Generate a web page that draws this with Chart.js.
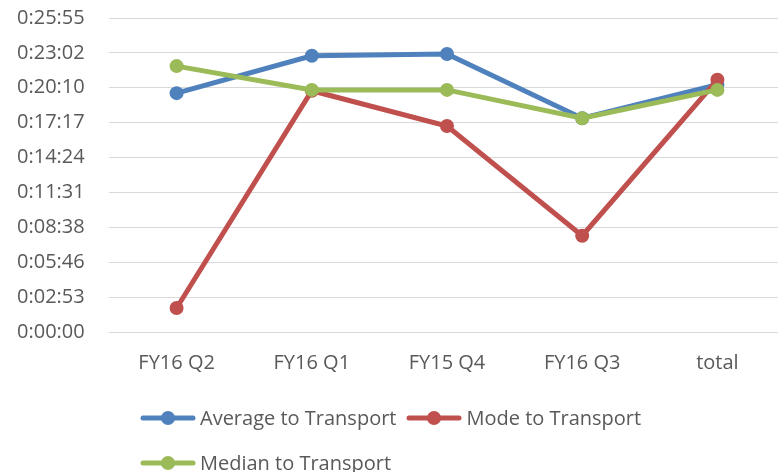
<!DOCTYPE html>
<html lang="en">
<head>
    <meta charset="UTF-8">
    <script src="https://cdn.jsdelivr.net/npm/chart.js"></script>
    <title>Time to Transport</title>
    <style>
        body { margin: 0; overflow: hidden; background: #fff; font-family: "Open Sans", sans-serif; }
        #wrap { position: relative; width: 778px; height: 472px; overflow: hidden; }
        #legend { position: absolute; left: 140px; top: 395px; color: #595959; font-size: 20px; }
        .row { display: flex; align-items: center; height: 45px; }
        .item { display: flex; align-items: center; margin-right: 10px; }
        .item svg { margin-right: 4px; }
    </style>
</head>
<body>
<div id="wrap">
    <canvas id="timeChart" width="792" height="472"></canvas>
    <div id="legend"></div>
</div>

<script>
    // data (seconds)
    const categories = ['FY16 Q2', 'FY16 Q1', 'FY15 Q4', 'FY16 Q3', 'total'];
    const averageSecs = [1183, 1368, 1377, 1059, 1225];
    const modeSecs = [119, 1195, 1020, 477, 1249];
    const medianSecs = [1317, 1199, 1199, 1059, 1199];
    const seriesNames = ['Average to Transport', 'Mode to Transport', 'Median to Transport'];
    const seriesColors = ['#4F81BD', '#C0504D', '#9BBB59'];
    const legendRows = [[0, 1], [2]];

    // excel-style axis: 0.002 day steps
    const stepSecs = 172.8;
    const maxSecs = 1555.2;

    function fmtTime(v) {
        let s = Math.round(v);
        let h = Math.floor(s / 3600);
        let m = Math.floor((s % 3600) / 60);
        let sec = s % 60;
        return h + ':' + String(m).padStart(2, '0') + ':' + String(sec).padStart(2, '0');
    }

    function makeSet(i, values) {
        return {
            label: seriesNames[i],
            data: values,
            borderColor: seriesColors[i],
            backgroundColor: seriesColors[i],
            borderWidth: 5,
            pointRadius: 7,
            pointBorderWidth: 0,
            pointBackgroundColor: seriesColors[i],
            order: 2 - i,
            tension: 0
        };
    }

    let ctx = document.getElementById('timeChart').getContext('2d');
    let chart = new Chart(ctx, {
        type: 'line',
        data: {
            labels: categories,
            datasets: [makeSet(0, averageSecs), makeSet(1, modeSecs), makeSet(2, medianSecs)]
        },
        options: {
            responsive: false,
            animation: false,
            layout: { padding: { left: 17, top: 0, right: 0, bottom: 90 } },
            plugins: {
                legend: { display: false },
                tooltip: { enabled: false }
            },
            scales: {
                x: {
                    offset: true,
                    grid: { display: false },
                    border: { display: false },
                    ticks: { color: '#595959', padding: 11, font: { family: 'Open Sans', size: 20 } },
                    afterFit: function(scale) { scale.height = 50; }
                },
                y: {
                    min: 0,
                    max: maxSecs,
                    grid: { color: '#D9D9D9', lineWidth: 1, drawTicks: false },
                    border: { display: false },
                    ticks: {
                        stepSize: stepSecs,
                        color: '#595959',
                        padding: 6,
                        crossAlign: 'far',
                        font: { family: 'Open Sans', size: 20 },
                        callback: function(v) { return fmtTime(v); }
                    },
                    afterFit: function(scale) { scale.width = 92; }
                }
            }
        }
    });

    // legend below the chart, two rows like the original
    let legendDiv = document.getElementById('legend');
    legendRows.forEach(function(row) {
        let r = document.createElement('div');
        r.className = 'row';
        row.forEach(function(i) {
            let c = seriesColors[i];
            let item = document.createElement('div');
            item.className = 'item';
            item.innerHTML = '<svg width="56" height="16"><line x1="3" y1="8" x2="53" y2="8" stroke="' + c +
                '" stroke-width="5" stroke-linecap="round"/><circle cx="28" cy="8" r="7" fill="' + c + '"/></svg>' +
                '<span>' + seriesNames[i] + '</span>';
            r.appendChild(item);
        });
        legendDiv.appendChild(r);
    });
</script>
</body>
</html>
